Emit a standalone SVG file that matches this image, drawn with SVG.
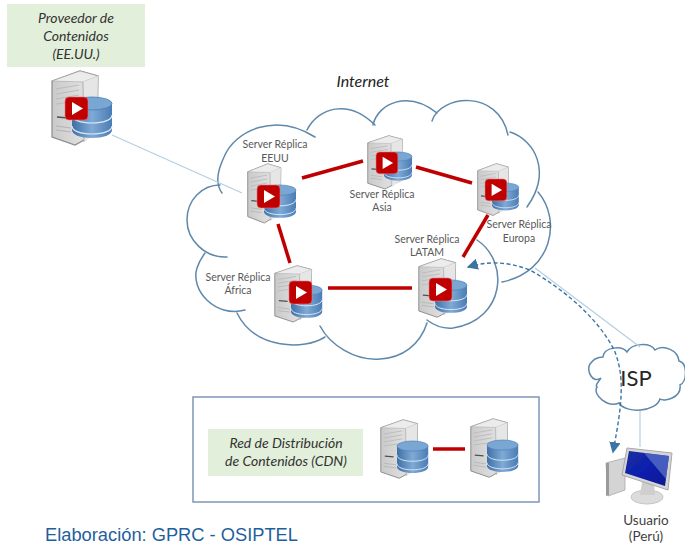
<svg xmlns="http://www.w3.org/2000/svg" width="685" height="545" viewBox="0 0 685 545">
<style>
text{font-family:Lato,"Open Sans","Liberation Sans",sans-serif;fill:#3f3f3f;text-anchor:middle}
.lb{font-size:10.5px;fill:#595959}
.it{font-style:italic;font-size:14px;fill:#333}
.cl{fill:none;stroke:#5f88ab;stroke-width:1.5;stroke-linecap:round}
.red{stroke:#c00000;stroke-width:3.5;fill:none}
.thin{stroke:#b4cfe2;stroke-width:1.2;fill:none}
.green{fill:#e2efda}
</style>
<defs>
<filter id="soft" x="-10%" y="-10%" width="120%" height="120%"><feGaussianBlur stdDeviation=".45"/></filter>
<linearGradient id="gf" x1="0" x2="1" y1="0" y2="0"><stop offset="0" stop-color="#c9c9c9"/><stop offset=".6" stop-color="#dedede"/><stop offset="1" stop-color="#c4c4c4"/></linearGradient>
<linearGradient id="gs" x1="0" x2="1" y1="0" y2="0"><stop offset="0" stop-color="#3f6fa6"/><stop offset=".5" stop-color="#7faad6"/><stop offset="1" stop-color="#4a7cb4"/></linearGradient>
<linearGradient id="gm" x1="0" x2="1" y1="0" y2="1"><stop offset="0" stop-color="#1a2f9e"/><stop offset=".5" stop-color="#0c1fae"/><stop offset="1" stop-color="#0a1a8c"/></linearGradient>
<marker id="ah" markerWidth="9" markerHeight="9" refX="7" refY="4" orient="auto-start-reverse"><path d="M0 0L8 4L0 8Z" fill="#3c74a3"/></marker>
<g id="tower" filter="url(#soft)">
<path d="M1 11L29 1L47 6L46 63L24 75L1 67Z" fill="url(#gf)" stroke="#8c8c8c" stroke-width="1.2"/>
<path d="M1 11L29 1L47 6L32 12Z" fill="#ececec" stroke="#a5a5a5" stroke-width=".6"/>
<path d="M32 12L47 6L46 63L33 72Z" fill="#e6e6e6"/>
<path d="M32 12L33 72" stroke="#a8a8a8" stroke-width=".8"/>
<path d="M5 19L28 15M5 24L28 20M5 29L28 25M5 34L28 31" stroke="#bcbcbc" stroke-width="1.2"/>
<path d="M6 47L17 48" stroke="#505050" stroke-width="1.6"/>
<path d="M5 56L20 58M5 60L20 62" stroke="#b3b3b3" stroke-width="1"/>
</g>
<g id="db" filter="url(#soft)">
<path d="M0 7V33C0 38 9 41 20 41S40 38 40 33V7Z" fill="url(#gs)"/>
<ellipse cx="20" cy="6.500" rx="20" ry="6.500" fill="#7aa6d4" stroke="#4a7cb4" stroke-width=".8"/>
<path d="M0 18C0 23 9 26 20 26S40 23 40 18M0 29C0 34 9 37 20 37S40 34 40 29" fill="none" stroke="#dce9f5" stroke-width="1.2"/>
</g>
<g id="play" filter="url(#soft)">
<rect x="0" y="0" width="23" height="23" rx="4" fill="#c00000" stroke="#e0797c" stroke-width=".6"/>
<path d="M7 5L18 11.500L7 18Z" fill="#fff"/>
</g>
</defs>
<rect width="685" height="545" fill="#fff"/>

<g id="cloud-internet">
<path class="cl" d="M222 193C214 182 219 168 224 157C235 130 276 112 315 137"/>
<path class="cl" d="M307 130C318 108 348 98 375 125"/>
<path class="cl" d="M373 125C378 103 408 90 437 113"/>
<path class="cl" d="M432 121C440 95 498 88 508 135"/>
<path class="cl" d="M510 132C535 140 552 172 527 207"/>
<path class="cl" d="M538 192C562 220 552 272 502 282"/>
<path class="cl" d="M477 240C510 262 505 320 453 328C443 329 435 326 427 320"/>
<path class="cl" d="M427 323C420 345 402 358 380 359C355 361 330 345 320 326"/>
<path class="cl" d="M325 337C305 350 255 350 237 313"/>
<path class="cl" d="M245 310C215 318 190 290 197 268C199 262 202 257 205 253"/>
<path class="cl" d="M227 257C205 258 187 240 187 220C187 200 202 185 220 185"/>
</g>

<g id="cloud-isp">
<path class="cl" d="M601 378C592 384 586 370 590 364C594 358 598 357 603 357C604 347 622 345 627 352C632 343 650 342 655 350C663 344 678 350 679 361C688 363 687 382 680 385C682 398 664 402 660 399C656 412 626 414 619 403C608 408 592 395 597 387C595 386 598 382 601 378Z"/>
<text x="636" y="386" style="font-size:22px;fill:#262626">ISP</text>
</g>

<g id="connectors">
<path class="thin" d="M112 135L242 193"/>
<path class="thin" d="M535 268L640 347"/>
<path class="thin" d="M640 411V447"/>
<path class="red" d="M302 178L363 161"/>
<path class="red" d="M416 167L472 183"/>
<path class="red" d="M488 215L463 257"/>
<path class="red" d="M278 224L290 263"/>
<path class="red" d="M328 288H412"/>
<path d="M468 267C485 262 503 260 530 270C565 290 600 320 615 352C625 378 622 405 613 452" fill="none" stroke="#3c74a3" stroke-width="1.4" stroke-dasharray="4 2.500" marker-start="url(#ah)" marker-end="url(#ah)"/>
</g>

<g id="provider">
<rect class="green" x="7" y="4" width="138" height="63"/>
<text class="it" x="76" y="23">Proveedor de</text>
<text class="it" x="76" y="41">Contenidos</text>
<text class="it" x="76" y="59">(EE.UU.)</text>
<use href="#tower" transform="translate(51,70)"/>
<use href="#db" transform="translate(72,97)"/>
<use href="#play" transform="translate(65,97)"/>
</g>

<text id="internet" x="363" y="87" style="font-style:italic;font-size:16px;fill:#222">Internet</text>

<g id="replica-eeuu">
<text class="lb" x="275" y="148">Server Réplica</text>
<text class="lb" x="275" y="162">EEUU</text>
<use href="#tower" transform="translate(247,163) scale(.72,.8)"/>
<use href="#db" transform="translate(264,185) scale(.8)"/>
<use href="#play" transform="translate(257,185)"/>
</g>
<g id="replica-asia">
<use href="#tower" transform="translate(367,135) scale(.75,.72)"/>
<use href="#db" transform="translate(384,152) scale(.7)"/>
<use href="#play" transform="translate(376,152) scale(.95)"/>
<text class="lb" x="382" y="198">Server Réplica</text>
<text class="lb" x="382" y="211">Asia</text>
</g>
<g id="replica-europa">
<use href="#tower" transform="translate(477,163) scale(.67,.7)"/>
<use href="#db" transform="translate(492,183) scale(.67)"/>
<use href="#play" transform="translate(485,179) scale(.95)"/>
<text class="lb" x="519" y="228">Server Réplica</text>
<text class="lb" x="519" y="242">Europa</text>
</g>
<g id="replica-latam">
<text class="lb" x="427" y="243">Server Réplica</text>
<text class="lb" x="427" y="256">LATAM</text>
<use href="#tower" transform="translate(418,258) scale(.8,.79)"/>
<use href="#db" transform="translate(435,280) scale(.8)"/>
<use href="#play" transform="translate(429,278)"/>
</g>
<g id="replica-africa">
<text class="lb" x="238" y="281">Server Réplica</text>
<text class="lb" x="238" y="294">África</text>
<use href="#tower" transform="translate(274,265) scale(.8,.76)"/>
<use href="#db" transform="translate(291,285) scale(.78,.8)"/>
<use href="#play" transform="translate(289,281)"/>
</g>

<g id="usuario">
<g filter="url(#soft)">
<path d="M606 463L625 458V490L608 496Z" fill="#d4d4d4" stroke="#a8a8a8" stroke-width=".8"/>
<path d="M606 463V496L609 495V463Z" fill="#9a9a9a"/>
<ellipse cx="647" cy="497" rx="16" ry="7" fill="#dcdcdc" stroke="#c4c4c4"/>
<path d="M642 482H654L655 495H640Z" fill="#cfcfcf"/>
<path d="M627 448L672 453L668 490L622 475Z" fill="#d5d5d5" stroke="#a8a8a8"/>
<path d="M629 451L669 456L665 486L625 473Z" fill="url(#gm)"/>
<path d="M644 453L669 456L666 479Z" fill="#5d78c9" opacity=".7"/>
</g>
<text x="646" y="525" style="font-size:13.5px">Usuario</text>
<text x="646" y="541" style="font-size:13.5px">(Perú)</text>
</g>

<g id="legend">
<rect x="193" y="397" width="346" height="105" fill="none" stroke="#7f97b5" stroke-width="1.5"/>
<rect class="green" x="208" y="429" width="155" height="47"/>
<text class="it" x="286" y="448">Red de Distribución</text>
<text class="it" x="286" y="466">de Contenidos (CDN)</text>
<use href="#tower" transform="translate(380,419) scale(.8,.79)"/>
<use href="#db" transform="translate(397,441) scale(.78)"/>
<path class="red" d="M433 449H465"/>
<use href="#tower" transform="translate(470,418) scale(.8,.79)"/>
<use href="#db" transform="translate(487,440) scale(.78)"/>
</g>

<text id="footer" x="45" y="540.500" style="font-family:'Liberation Sans',sans-serif;font-size:18.300px;fill:#1f5f9e;text-anchor:start">Elaboración: GPRC - OSIPTEL</text>
</svg>
